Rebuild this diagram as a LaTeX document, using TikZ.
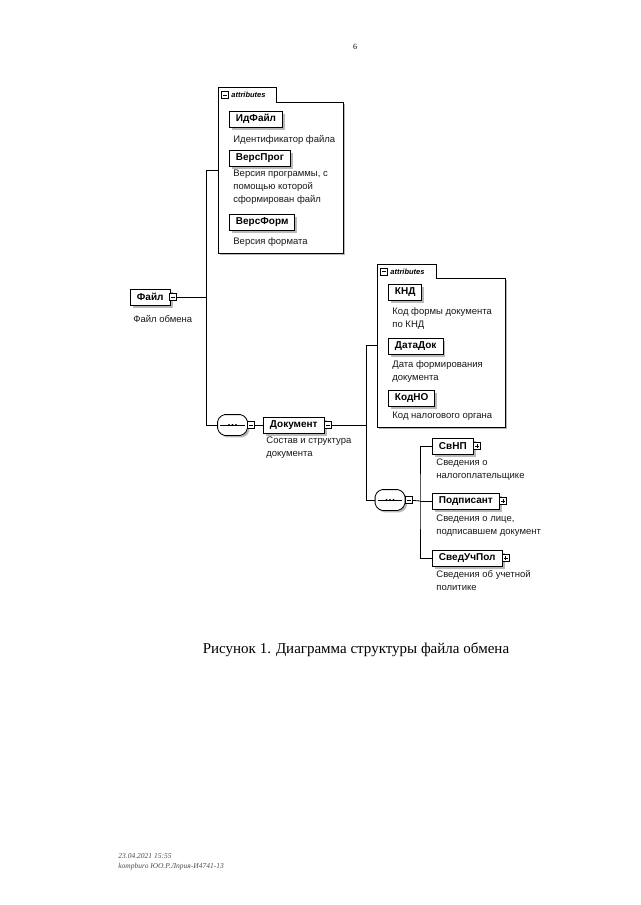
\documentclass[tikz,border=0pt]{standalone}
\usepackage{fontspec}
\setmainfont{Liberation Serif}
\setsansfont{Liberation Sans}
\usetikzlibrary{shadows}

% outline of a sequence compositor, shifted by #2,#3
\newcommand{\seqshape}[3]{([xshift=5pt+#2,yshift=#3]#1.north west) -- ([xshift=-5pt+#2,yshift=#3]#1.north east)
  -- ([xshift=#2,yshift=-5pt+#3]#1.north east) -- ([xshift=#2,yshift=5pt+#3]#1.south east)
  -- ([xshift=-5pt+#2,yshift=#3]#1.south east) -- ([xshift=5pt+#2,yshift=#3]#1.south west)
  -- ([xshift=#2,yshift=5pt+#3]#1.south west) -- ([xshift=#2,yshift=-5pt+#3]#1.north west) -- cycle}

\begin{document}
\begin{tikzpicture}[x=1pt,y=-1pt,
					thick,
					element/.style={draw,fill=white,line width=0.9pt,anchor=west,
						inner xsep=6.5pt,inner ysep=0pt,minimum height=16pt,
						font=\sffamily\bfseries\fontsize{10}{12}\selectfont,
						drop shadow={shadow xshift=2.5pt,shadow yshift=-2.5pt,fill=gray!55,opacity=1}},
					note/.style={anchor=west,inner sep=0pt,align=left,
						font=\sffamily\fontsize{9.5}{13}\selectfont,text=black!90},
					xbox/.style={draw,fill=white,line width=0.6pt,minimum size=7pt,inner sep=0pt,anchor=west},
					minusbox/.style={xbox,path picture={
						\draw[line width=0.6pt] ([xshift=1.5pt]path picture bounding box.west) -- ([xshift=-1.5pt]path picture bounding box.east);}},
					plusbox/.style={xbox,path picture={
						\draw[line width=0.6pt] ([xshift=1.5pt]path picture bounding box.west) -- ([xshift=-1.5pt]path picture bounding box.east);
						\draw[line width=0.6pt] ([yshift=-1.5pt]path picture bounding box.north) -- ([yshift=1.5pt]path picture bounding box.south);}},
					attrbody/.style={draw,fill=white,line width=0.7pt,anchor=north west,inner sep=0pt,
						drop shadow={shadow xshift=2pt,shadow yshift=-2pt,fill=gray!55,opacity=1}},
					attrtab/.style={draw,fill=white,line width=0.7pt,anchor=south west,inner sep=0pt},
					tabtext/.style={anchor=west,inner sep=0pt,font=\sffamily\bfseries\itshape\fontsize{7.5}{9}\selectfont},
					sequence/.style={minimum width=29pt,minimum height=20pt,inner sep=0pt}]

  \useasboundingbox (0,0) rectangle (640,905);

  % page number and caption
  \node[font=\fontsize{8}{10}\selectfont] (page) at (355,47) {6};
  \node[font=\fontsize{15}{18}\selectfont] (caption) at (356,650) {Рисунок 1. Диаграмма структуры файла обмена};

  % attributes of the file
  \node[attrbody,minimum width=125pt,minimum height=151pt] (AT1) at (218,102) {};
  \node[attrtab,minimum width=58pt,minimum height=14pt] (T1) at (AT1.north west) {};
  \draw[white,line width=1.2pt] ([xshift=0.8pt]T1.south west) -- ([xshift=-0.8pt]T1.south east);
  \node[minusbox,anchor=center] (T1x) at (225,95) {};
  \node[tabtext] (T1t) at (231,95) {attributes};

  \node[element] (IdFajl) at (229,119) {ИдФайл};
  \node[note] (IdFajlD) at (233,140) {Идентификатор файла};
  \node[element] (VersProg) at (229,158) {ВерсПрог};
  \node[note,anchor=north west] (VersProgD) at (233,170) {Версия программы, с\\помощью которой\\сформирован файл};
  \node[element] (VersForm) at (229,222) {ВерсФорм};
  \node[note] (VersFormD) at (233,242) {Версия формата};

  % root
  \node[element] (Fajl) at (130,297) {Файл\hspace{4pt}};
  \node[minusbox] (FajlX) at ([xshift=-1pt]Fajl.east) {};
  \node[note] (FajlD) at (133,319) {Файл обмена};

  % sequences
  \node[sequence] (S1) at (232.5,425) {};
  \node[sequence] (S2) at (390,500) {};
  \foreach \s in {S1,S2} {
    \fill[gray!55,rounded corners=2pt] \seqshape{\s}{2pt}{-2pt};
    \filldraw[fill=white,line width=0.8pt,rounded corners=2pt] \seqshape{\s}{0pt}{0pt};
    \draw[line width=0.7pt] ([xshift=2.5pt]\s.west) -- ([xshift=-2.5pt]\s.east);
    \foreach \d in {-3.5,0,3.5}
      \fill ([xshift=\d pt]\s.center) circle (1.2pt);
  }
  \node[minusbox] (S1x) at (S1.east) {};
  \node[minusbox] (S2x) at (S2.east) {};

  \node[element] (Dok) at (263,425) {Документ};
  \node[minusbox] (DokX) at ([xshift=-0.5pt]Dok.east) {};
  \node[note,anchor=north west] (DokD) at (266,436) {Состав и структура\\документа};

  % attributes of the document
  \node[attrbody,minimum width=128pt,minimum height=149pt] (AT2) at (377,278) {};
  \node[attrtab,minimum width=59pt,minimum height=13pt] (T2) at (AT2.north west) {};
  \draw[white,line width=1.2pt] ([xshift=0.8pt]T2.south west) -- ([xshift=-0.8pt]T2.south east);
  \node[minusbox,anchor=center] (T2x) at (384,271.5) {};
  \node[tabtext] (T2t) at (390,271.5) {attributes};

  \node[element] (KND) at (388,292) {КНД\hspace{6pt}};
  \node[note,anchor=north west] (KNDD) at (392,307) {Код формы документа\\по КНД};
  \node[element] (DataDok) at (388,346) {ДатаДок};
  \node[note,anchor=north west] (DataDokD) at (392,360) {Дата формирования\\документа};
  \node[element] (KodNO) at (388,398) {КодНО};
  \node[note] (KodNOD) at (392,416) {Код налогового органа};

  \node[element] (SvNP) at (432,446) {СвНП};
  \node[plusbox] (SvNPX) at ([xshift=-0.5pt]SvNP.east) {};
  \node[note,anchor=north west] (SvNPD) at (436,458) {Сведения о\\налогоплательщике};
  \node[element] (Podp) at (432,501) {Подписант};
  \node[plusbox] (PodpX) at ([xshift=-0.5pt]Podp.east) {};
  \node[note,anchor=north west] (PodpD) at (436,514) {Сведения о лице,\\подписавшем документ};
  \node[element] (SvedUch) at (432,558) {СведУчПол};
  \node[plusbox] (SvedUchX) at ([xshift=-0.5pt]SvedUch.east) {};
  \node[note,anchor=north west] (SvedUchD) at (436,570) {Сведения об учетной\\политике};

  % junctions
  \coordinate (J1) at (206,297);
  \coordinate (J1a) at (206,170);
  \coordinate (J1b) at (206,425);
  \coordinate (J2) at (366,425);
  \coordinate (J2a) at (366,345);
  \coordinate (J2b) at (366,500);
  \coordinate (J3) at (420,501);

  \path[draw,line width=0.8pt]
    (FajlX) edge (J1)
    (J1a -| AT1.west) edge (J1a)
    (J1a) edge (J1b)
    (J1b) edge (S1.west)
    (S1x) edge (Dok.west)
    (DokX) edge (J2)
    (J2a -| AT2.west) edge (J2a)
    (J2a) edge (J2b)
    (J2b) edge (S2.west)
    (S2x) edge (J3)
    (J3) edge (Podp.west)
;
  \draw[line width=0.8pt] (SvNP.west) -| (J3) |- (SvedUch.west);

  % footer
  \node[anchor=west,align=left,inner sep=0pt,text=black!70,
        font=\itshape\fontsize{7.5}{10}\selectfont] (foot) at (118,862)
        {23.04.2021 15:55\\kompburo ЮО.Р.Лприя-И4741-13};
\end{tikzpicture}
\end{document}
